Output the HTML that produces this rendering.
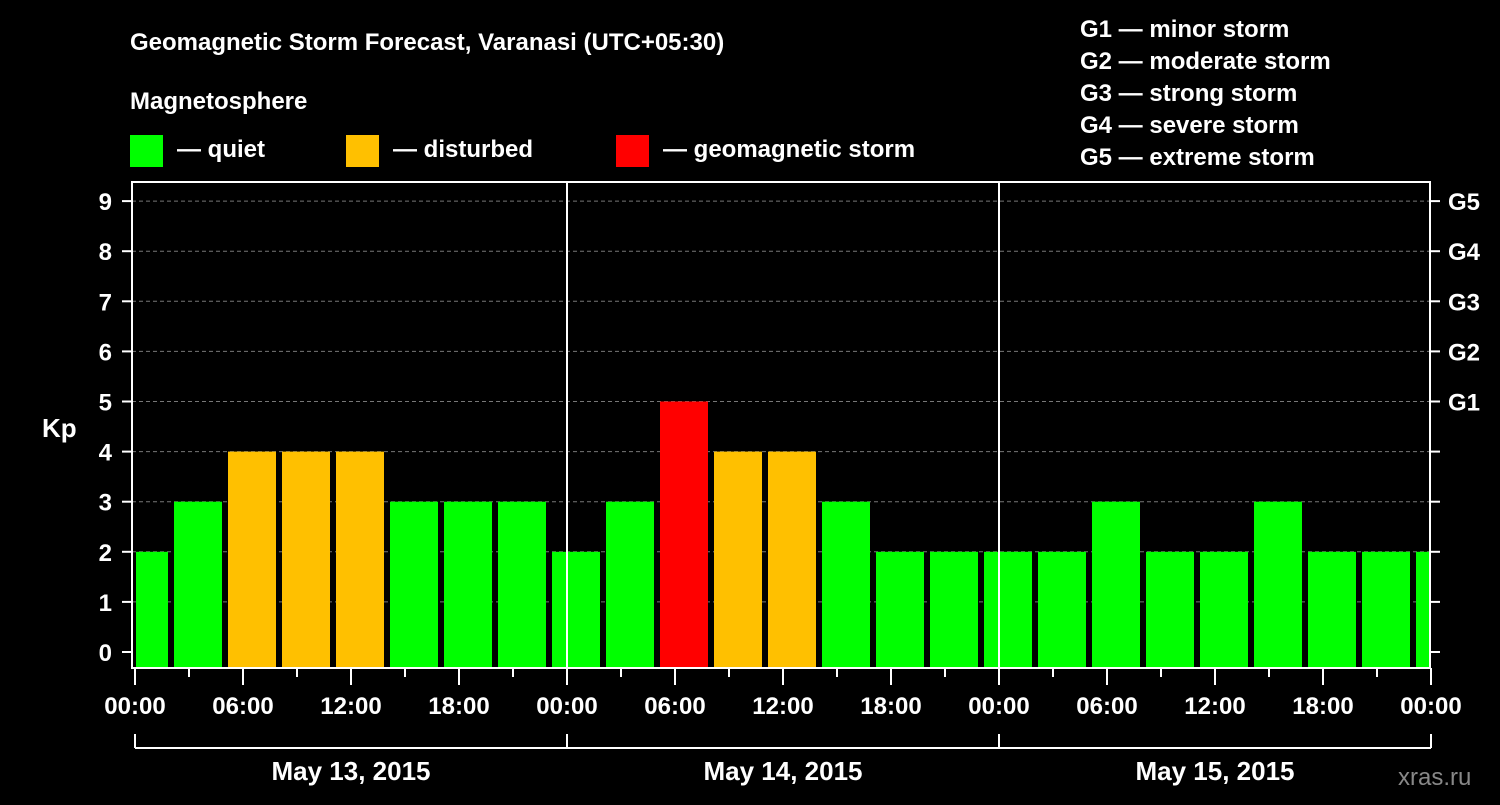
<!DOCTYPE html>
<html><head><meta charset="utf-8"><style>
body{margin:0;background:#000;width:1500px;height:800px;overflow:hidden}
svg text{font-family:"Liberation Sans",sans-serif;font-weight:bold;fill:#fff}
</style></head><body>
<svg id="c" width="1500" height="800">
<text x="130" y="50" font-size="24">Geomagnetic Storm Forecast, Varanasi (UTC+05:30)</text>
<text x="130" y="109" font-size="24">Magnetosphere</text>
<g><rect x="130" y="135" width="33" height="32" fill="#00ff00"/><text x="177" y="157" font-size="24">— quiet</text></g>
<g><rect x="346" y="135" width="33" height="32" fill="#ffc000"/><text x="393" y="157" font-size="24">— disturbed</text></g>
<g><rect x="616" y="135" width="33" height="32" fill="#ff0000"/><text x="663" y="157" font-size="24">— geomagnetic storm</text></g>
<g font-size="24">
<text x="1080" y="37">G1 — minor storm</text><text x="1080" y="69">G2 — moderate storm</text><text x="1080" y="101">G3 — strong storm</text><text x="1080" y="133">G4 — severe storm</text><text x="1080" y="165">G5 — extreme storm</text></g>
<text x="42" y="437" font-size="26">Kp</text>
<text x="1398" y="785" font-size="24" fill="#888" style="fill:#888;font-weight:normal">xras.ru</text>
<g id="g"></g>
</svg>
<script>
const kpValues=[2,3,4,4,4,3,3,3,2,3,5,4,4,3,2,2,2,2,3,2,2,3,2,2,2];
const dayLabels=["May 13, 2015","May 14, 2015","May 15, 2015"];
const hourLabels=["00:00","06:00","12:00","18:00"];
const gLabels=["G1","G2","G3","G4","G5"];
const firstSlotHour=-1; // slot start hour offset
const L=132,R=1430,T=182,B=668,X0=135;
const xh=h=>X0+h*18;
const yk=k=>652-k*50.1;
const ns="http://www.w3.org/2000/svg",g=document.getElementById('g');
function mk(t,a,txt){const e=document.createElementNS(ns,t);for(const k in a)e.setAttribute(k,a[k]);if(txt!=null)e.textContent=txt;g.appendChild(e);return e;}
for(let k=1;k<=9;k++){const e=mk('line',{x1:L,x2:R,y1:yk(k),y2:yk(k),stroke:'#777','stroke-dasharray':'4,3'});

}
kpValues.forEach((v,i)=>{let x1=xh(firstSlotHour+i*3)+3,x2=xh(firstSlotHour+i*3+3)-3;x1=Math.max(x1,L+4);x2=Math.min(x2,R);
const col=v>=5?'#ff0000':v>=4?'#ffc000':'#00ff00';
const e=mk('rect',{x:x1,y:yk(v),width:x2-x1,height:B-yk(v),fill:col});

});
for(let d=1;d<3;d++){const e=mk('line',{x1:xh(d*24),x2:xh(d*24),y1:T,y2:B,stroke:'#fff','stroke-width':2});

}
const f=mk('rect',{x:L,y:T,width:R-L,height:B-T,fill:'none',stroke:'#fff','stroke-width':2});


for(let k=0;k<=9;k++){mk('line',{x1:122,x2:L,y1:yk(k),y2:yk(k),stroke:'#fff','stroke-width':2});mk('line',{x1:R,x2:1440,y1:yk(k),y2:yk(k),stroke:'#fff','stroke-width':2});
const t=mk('text',{x:112,y:yk(k)+9,'font-size':24,'text-anchor':'end'},k);

}
gLabels.forEach((s,i)=>{const t=mk('text',{x:1448,y:yk(5+i)+9,'font-size':24},s);

});
for(let h=0;h<=72;h+=3){const maj=h%6==0;mk('line',{x1:xh(h),x2:xh(h),y1:B,y2:B+(maj?17:9),stroke:'#fff','stroke-width':2});
if(maj){const t=mk('text',{x:xh(h),y:714,'font-size':24,'text-anchor':'middle'},hourLabels[(h/6)%4]);

}}
mk('line',{x1:xh(0),x2:xh(72),y1:748,y2:748,stroke:'#fff','stroke-width':2});
for(let d=0;d<=3;d++)mk('line',{x1:xh(d*24),x2:xh(d*24),y1:734,y2:748,stroke:'#fff','stroke-width':2});
dayLabels.forEach((s,i)=>{const t=mk('text',{x:xh(i*24+12),y:780,'font-size':26,'text-anchor':'middle'},s);

});
</script>
</body></html>
